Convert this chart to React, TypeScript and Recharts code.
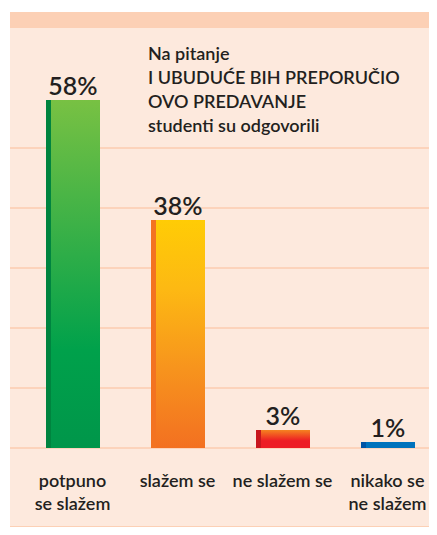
import { BarChart, Bar, XAxis, YAxis, ReferenceLine, LabelList } from 'recharts';

const categories = ['potpuno\nse slažem', 'slažem se', 'ne slažem se', 'nikako se\nne slažem'];
const percentages = [58, 38, 3, 1];
const yTicks = [0, 10, 20, 30, 40, 50];
const yMax = 60;
const titleLines = ['Na pitanje', 'I UBUDUĆE BIH PREPORUČIO', 'OVO PREDAVANJE', 'studenti su odgovorili'];

// gradient stops top -> bottom, plus the darker strip on the left edge
const barStops = [
  [['0', '#78c143'], ['0.72', '#00a14b'], ['1', '#00964a']],
  [['0', '#ffcc05'], ['0.3', '#fdb913'], ['0.65', '#f7941d'], ['1', '#f37021']],
  [['0', '#f58220'], ['0.6', '#ed1c24'], ['1', '#ed1c24']],
  [['0', '#0072bc'], ['1', '#0072bc']],
];
const stripColors = ['#00843f', '#f37321', '#c8161d', '#0054a5'];

const data = categories.map((name, i) => ({ name, value: percentages[i], idx: i }));

const INK = '#231f20';
const FONT = 'Lato, "Open Sans", sans-serif';
const MARGIN = { top: 88, right: 0, bottom: 10, left: 10 };

function GradBar(props: any) {
  const { x, y, width, height, payload } = props;
  const i = payload.idx;
  const id = `barGrad${i}`;
  return (
    <g>
      <defs>
        <linearGradient id={id} x1="0" y1="0" x2="0" y2="1">
          {barStops[i].map(([o, c]) => (
            <stop key={o} offset={o} stopColor={c} />
          ))}
        </linearGradient>
      </defs>
      <rect x={x} y={y} width={width} height={height} fill={`url(#${id})`} />
      <rect x={x} y={y} width={5} height={height} fill={stripColors[i]} />
    </g>
  );
}

function CategoryTick(props: any) {
  const { x, y, payload } = props;
  const lines = String(payload.value).split('\n');
  return (
    <text x={x} y={y} textAnchor="middle" fill={INK} fontSize={18} fontWeight={600} fontFamily={FONT}>
      {lines.map((l, k) => (
        <tspan key={k} x={x} dy={k === 0 ? 39 : 23}>
          {l}
        </tspan>
      ))}
    </text>
  );
}

export default function App() {
  return (
    <div style={{ position: 'relative', width: 437, height: 535, margin: -8, background: '#fff', overflow: 'hidden' }}>
      <div style={{ position: 'absolute', left: 10, top: 12, width: 427, height: 523, background: '#fde9dd' }} />
      <div style={{ position: 'absolute', left: 10, top: 12, width: 427, height: 16, background: '#fcd0b5' }} />
      <div style={{ position: 'absolute', left: 10, top: 526, width: 427, height: 9, background: '#fcd0b5' }} />

      {/* grid layer underneath, same scales as the bar chart */}
      <div style={{ position: 'absolute', left: 0, top: 0 }}>
        <BarChart width={437} height={535} data={data} margin={MARGIN}>
          <XAxis dataKey="name" height={77} axisLine={false} tickLine={false} tick={false} />
          <YAxis hide domain={[0, yMax]} ticks={yTicks} />
          <Bar dataKey="value" fill="transparent" isAnimationActive={false} />
          {yTicks.map((t) => (
            <ReferenceLine key={t} y={t} stroke="#fcd3bb" strokeWidth={2} />
          ))}
        </BarChart>
      </div>

      <div style={{ position: 'absolute', left: 0, top: 0 }}>
        <BarChart width={437} height={535} data={data} margin={MARGIN}>
          <XAxis
            dataKey="name"
            height={77}
            axisLine={false}
            tickLine={false}
            tickSize={0}
            tickMargin={0}
            padding={{ left: 10, right: -3 }}
            interval={0}
            tick={<CategoryTick />}
          />
          <YAxis hide domain={[0, yMax]} ticks={yTicks} />
          <Bar dataKey="value" barSize={54} shape={<GradBar />} isAnimationActive={false}>
            <LabelList
              dataKey="value"
              position="top"
              offset={5}
              formatter={(v: any) => `${v}%`}
              fill={INK}
              fontSize={25}
              fontWeight={600}
              fontFamily={FONT}
            />
          </Bar>
        </BarChart>
      </div>

      <div
        style={{
          position: 'absolute',
          left: 148,
          top: 41,
          fontFamily: FONT,
          fontSize: 18,
          fontWeight: 600,
          lineHeight: '24px',
          color: INK,
          whiteSpace: 'nowrap',
        }}
      >
        {titleLines.map((l) => (
          <div key={l}>{l}</div>
        ))}
      </div>
    </div>
  );
}
